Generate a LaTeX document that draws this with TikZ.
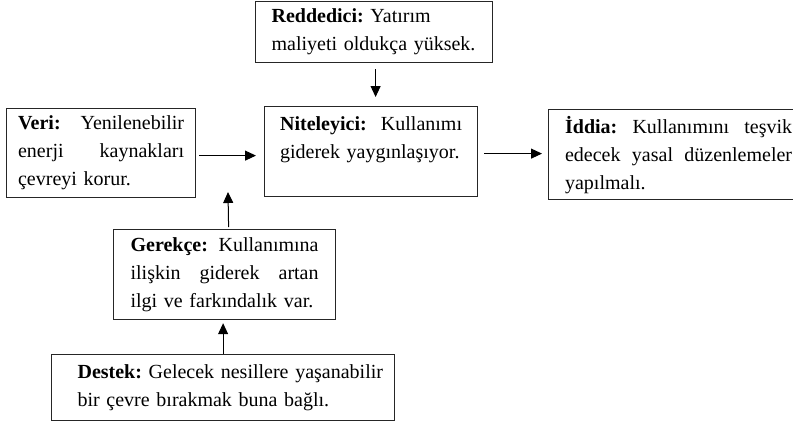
\documentclass[tikz,border=0pt]{standalone}
\usepackage{fontspec}
\setmainfont{Liberation Serif}
\usetikzlibrary{arrows.meta,calc}
\newcommand{\jl}[2]{\leavevmode\hbox to #1{#2}}
\newcommand{\js}{\hskip 0.25em plus 1fill\relax}
\begin{document}
\frenchspacing
\begin{tikzpicture}[x=1pt,y=-1pt,
  box/.style={draw=black!85, line width=1.2pt, rectangle, inner sep=0pt, anchor=north west,
    font=\fontsize{20}{28}\selectfont\frenchspacing},
  arr/.style={-{Triangle[length=11pt,width=10pt]}, line width=1pt, black}]
\useasboundingbox (0,0) rectangle (793,424);
\fill[white] (0,0) rectangle (793,424);

\node[box, minimum width=237pt, minimum height=61pt, text width=205pt, align=left] (red) at (255,1)
  {\textbf{Reddedici:} Yatırım\\maliyeti oldukça yüksek.};
\node[box, minimum width=189pt, minimum height=89pt, text width=166pt, align=left] (veri) at (6,108)
  {\jl{166pt}{\textbf{Veri:}\js Yenilenebilir}\\\jl{166pt}{enerji\js kaynakları}\\çevreyi korur.};
\node[box, minimum width=213pt, minimum height=90pt, text width=182pt, align=left] (nit) at (264,106)
  {\jl{182pt}{\textbf{Niteleyici:}\js Kullanımı}\\giderek yaygınlaşıyor.\\\mbox{}};
\node[box, minimum width=260pt, minimum height=90pt, text width=227pt, align=left] (idd) at (548,109)
  {\jl{227pt}{\textbf{İddia:}\js Kullanımını\js teşvik}\\\jl{227pt}{edecek\js yasal\js düzenlemeler}\\yapılmalı.};
\node[box, minimum width=222pt, minimum height=90pt, text width=188pt, align=left] (ger) at (113,229)
  {\jl{188pt}{\textbf{Gerekçe:}\js Kullanımına}\\\jl{188pt}{ilişkin\js giderek\js artan}\\ilgi ve farkındalık var.};
\node[box, minimum width=343pt, minimum height=66pt, text width=315pt, align=left] (des) at (51,354)
  {\hspace*{12pt}\mbox{\textbf{Destek:} Gelecek nesillere yaşanabilir}\\\hspace*{12pt}bir çevre bırakmak buna bağlı.};

\coordinate (gtarget) at (228,192);

\draw[arr] ([xshift=1.5pt,yshift=-6pt]red.south) -- ([xshift=1.5pt,yshift=9pt]red.south |- nit.north);
\draw[arr] ([xshift=3pt,yshift=-2.5pt]veri.east) -- ([xshift=-8pt,yshift=-2.5pt]veri.east -| nit.west);
\draw[arr] ([xshift=6pt,yshift=-2pt]nit.east) -- ([xshift=-6pt,yshift=-2pt]nit.east -| idd.west);
\draw[arr] ([xshift=4pt,yshift=2pt]ger.north) -- (gtarget);
\draw[arr] (des.north) -- ([yshift=-3pt]des.north |- ger.south);
\end{tikzpicture}
\end{document}
